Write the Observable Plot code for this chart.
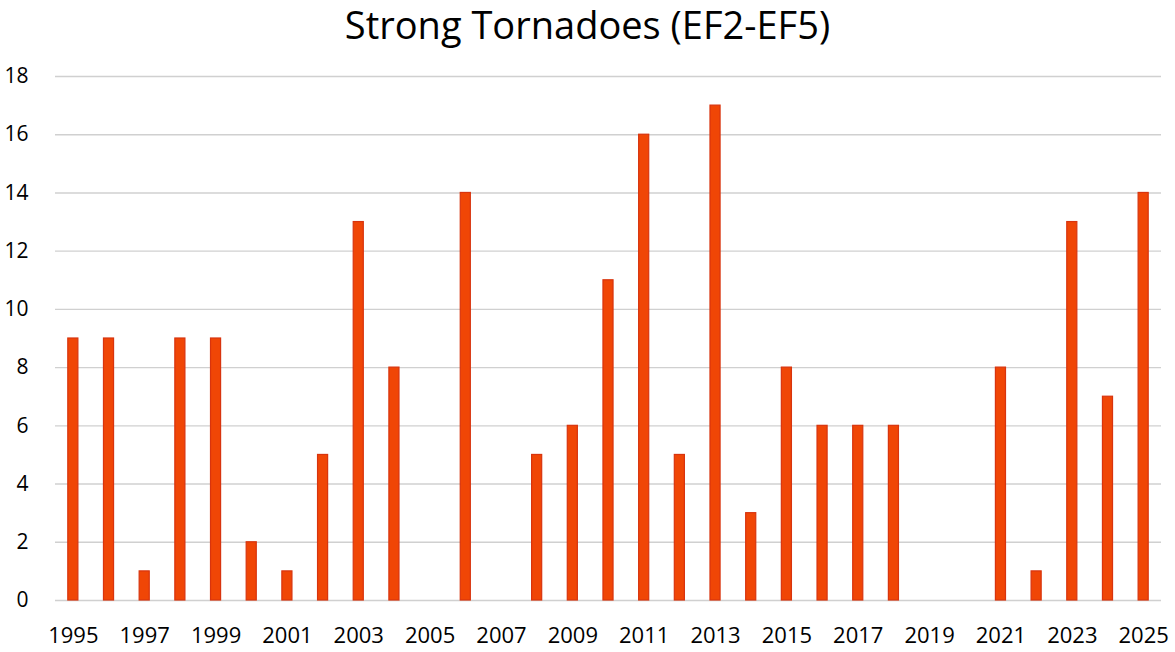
<!DOCTYPE html>
<html>
<head>
<meta charset="utf-8">
<script src="https://cdn.jsdelivr.net/npm/d3@7"></script>
<script src="https://cdn.jsdelivr.net/npm/@observablehq/plot@0.6"></script>
<style>
  html, body { margin: 0; padding: 0; background: #fff; }
  #title { font-family: "Open Sans", sans-serif; font-size: 38px; text-align: center; height: 52px; line-height: 48px; color: #000; width: 1175px; }
  svg { display: block; }
</style>
</head>
<body>
<div id="title">Strong Tornadoes (EF2-EF5)</div>
<div id="chart"></div>
<script>
const years = d3.range(1995, 2026).map(String);
const counts = [9, 9, 1, 9, 9, 2, 1, 5, 13, 8, 0, 14, 0, 5, 6, 11, 16, 5, 17, 3, 8, 6, 6, 6, 0, 0, 8, 1, 13, 7, 14];
const yTicks = [0, 2, 4, 6, 8, 10, 12, 14, 16, 18];
const xTickLabels = years.filter((y, i) => i % 2 === 0);

const data = years.map((y, i) => ({year: y, value: counts[i]}));

const chart = Plot.plot({
  width: 1175,
  height: 600,
  marginTop: 24,
  marginBottom: 52,
  marginLeft: 55,
  marginRight: 14,
  style: {fontFamily: "'Open Sans', sans-serif", fontSize: "21px", color: "#000", background: "#fff"},
  x: {domain: years, range: [55, 1161], padding: 0, round: false, label: null},
  y: {domain: [0, 18], label: null},
  marks: [
    Plot.ruleY(yTicks, {stroke: "#d0d0d0", strokeWidth: 1.4}),
    Plot.barY(data.filter(d => d.value > 0), {x: "year", y: "value", insetLeft: 12.8, insetRight: 12.8, fill: "#f04606", stroke: "#d8340e", strokeWidth: 1.2}),
    Plot.axisX({ticks: xTickLabels, tickSize: 0, tickPadding: 27, fontSize: 22}),
    Plot.axisY({ticks: yTicks, tickSize: 0, tickPadding: 27, fontSize: 21})
  ]
});
document.getElementById("chart").appendChild(chart);
</script>
</body>
</html>
